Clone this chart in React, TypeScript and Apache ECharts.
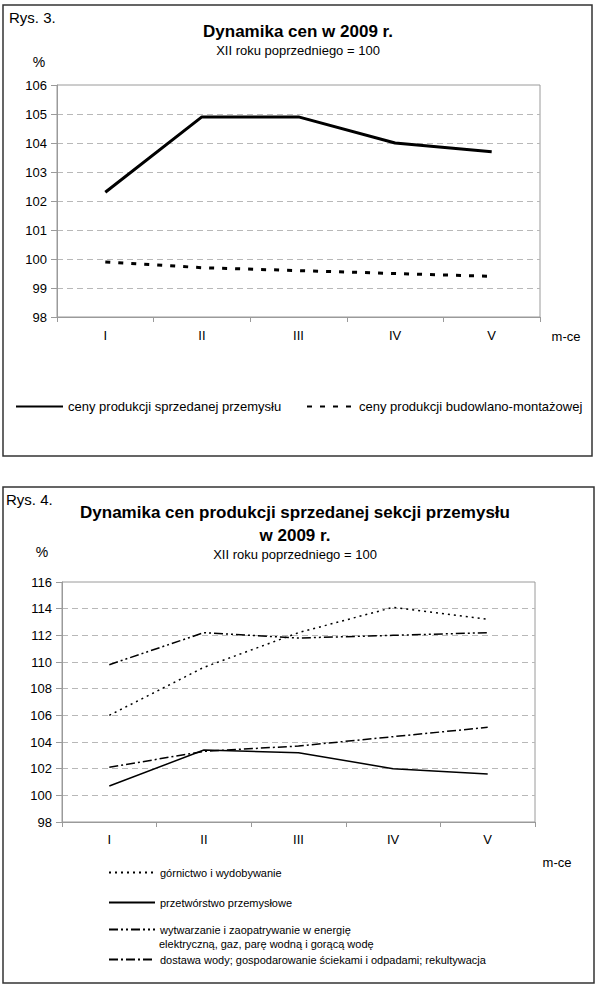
import React, { useEffect, useRef } from "react";
import * as echarts from "echarts";

const FONT = '"Liberation Sans", Arial, sans-serif';

// months (m-ce) on the x axes
const months = ["I", "II", "III", "IV", "V"];

// Rys. 3 – XII roku poprzedniego = 100
const industryPrices = [102.3, 104.9, 104.9, 104.0, 103.7];
const constructionPrices = [99.9, 99.7, 99.6, 99.5, 99.4];

// Rys. 4 – sekcje przemysłu
const mining = [106.0, 109.6, 112.2, 114.1, 113.2];
const manufacturing = [100.7, 103.4, 103.2, 102.0, 101.6];
const energy = [109.8, 112.2, 111.8, 112.0, 112.2];
const water = [102.1, 103.3, 103.7, 104.4, 105.1];

const NAME_INDUSTRY = "ceny produkcji sprzedanej przemysłu";
const NAME_CONSTRUCTION = "ceny produkcji budowlano-montażowej";
const NAME_MINING = "górnictwo i wydobywanie";
const NAME_MANUF = "przetwórstwo przemysłowe";
const NAME_ENERGY = "wytwarzanie i zaopatrywanie w energię";
const NAME_ENERGY_2 = "elektryczną, gaz, parę wodną i gorącą wodę";
const NAME_WATER = "dostawa wody; gospodarowanie ściekami i odpadami; rekultywacja";

const AXIS_GRAY = "#9a9a9a";

function valueAxis(gridIndex: number, min: number, max: number, interval: number) {
    return {
        type: "value",
        gridIndex,
        min,
        max,
        interval,
        axisLine: { show: true, lineStyle: { color: AXIS_GRAY } },
        axisTick: { show: true, length: 6, lineStyle: { color: AXIS_GRAY } },
        axisLabel: { color: "#000", fontSize: 13, fontFamily: FONT, margin: 10 },
        splitLine: {
            show: true,
            showMinLine: false,
            showMaxLine: false,
            lineStyle: { color: "#b8b8b8", type: [6, 4], width: 1 },
        },
    };
}

function monthAxis(gridIndex: number, margin: number) {
    return {
        type: "category",
        gridIndex,
        data: months,
        boundaryGap: true,
        axisLine: { show: true, lineStyle: { color: AXIS_GRAY } },
        axisTick: { show: true, length: 5, alignWithLabel: false, lineStyle: { color: AXIS_GRAY } },
        axisLabel: { color: "#000", fontSize: 13, fontFamily: FONT, margin },
        splitLine: { show: false },
    };
}

function lineSeries(name: string, axisIndex: number, data: number[], width: number, type: any) {
    return {
        name,
        type: "line",
        xAxisIndex: axisIndex,
        yAxisIndex: axisIndex,
        data,
        symbol: "none",
        lineStyle: { color: "#000", width, type, cap: "butt" },
        itemStyle: { color: "#000" },
        emphasis: { disabled: true },
    };
}

function legendAt(name: string, left: number, top: number, fontSize: number, itemWidth: number) {
    return {
        data: [name],
        left,
        top,
        padding: 0,
        itemWidth,
        itemHeight: 10,
        selectedMode: false,
        itemStyle: { opacity: 0 },
        textStyle: { color: "#000", fontSize, fontFamily: FONT },
    };
}

function label(text: string, x: number, y: number, fontSize: number, opts: any = {}) {
    return {
        type: "text",
        x,
        y,
        z: 10,
        style: {
            text,
            fill: "#000",
            font: `${opts.bold ? "bold " : ""}${fontSize}px ${FONT}`,
            textAlign: opts.align ?? "left",
            textVerticalAlign: "middle",
        },
    };
}

const App: React.FC = () => {
    const containerRef = useRef<HTMLDivElement | null>(null);

    useEffect(() => {
        if (!containerRef.current) return;
        const inst = echarts.init(containerRef.current, undefined, { renderer: "svg" });

        inst.setOption({
            animation: false,
            backgroundColor: "#fff",
            textStyle: { fontFamily: FONT },
            grid: [
                { left: 57, right: 60, top: 85, height: 232, show: true, borderColor: AXIS_GRAY, borderWidth: 1 },
                { left: 62, right: 65, top: 582, height: 240, show: true, borderColor: AXIS_GRAY, borderWidth: 1 },
            ],
            xAxis: [monthAxis(0, 12), monthAxis(1, 11)],
            yAxis: [valueAxis(0, 98, 106, 1), valueAxis(1, 98, 116, 2)],
            legend: [
                legendAt(NAME_INDUSTRY, 15, 400, 13, 47),
                legendAt(NAME_CONSTRUCTION, 306, 400, 13, 47),
                legendAt(NAME_MINING, 108, 867, 11, 46),
                legendAt(NAME_MANUF, 108, 897, 11, 46),
                legendAt(NAME_ENERGY, 108, 924, 11, 46),
                legendAt(NAME_WATER, 108, 954, 11, 46),
            ],
            series: [
                lineSeries(NAME_INDUSTRY, 0, industryPrices, 3, "solid"),
                lineSeries(NAME_CONSTRUCTION, 0, constructionPrices, 3, [5, 8]),
                lineSeries(NAME_MINING, 1, mining, 1.5, [2, 4]),
                lineSeries(NAME_MANUF, 1, manufacturing, 1.5, "solid"),
                lineSeries(NAME_ENERGY, 1, energy, 1.5, [9, 3, 2, 3, 2, 3]),
                lineSeries(NAME_WATER, 1, water, 1.5, [9, 3, 2, 3]),
            ],
            graphic: [
                {
                    type: "rect",
                    shape: { x: 3, y: 5, width: 589, height: 451 },
                    style: { fill: "none", stroke: "#333", lineWidth: 1.5 },
                },
                {
                    type: "rect",
                    shape: { x: 3, y: 487, width: 591, height: 496 },
                    style: { fill: "none", stroke: "#333", lineWidth: 1.5 },
                },
                label("Rys. 3.", 9, 17, 15),
                label("Dynamika cen w 2009 r.", 298, 31, 17, { bold: true, align: "center" }),
                label("XII roku poprzedniego = 100", 298, 50, 13, { align: "center" }),
                label("%", 39, 62, 14, { align: "center" }),
                label("m-ce", 566, 336, 13, { align: "center" }),

                label("Rys. 4.", 6, 499, 15),
                label("Dynamika cen produkcji sprzedanej sekcji przemysłu", 295, 512, 17, { bold: true, align: "center" }),
                label("w 2009 r.", 295, 535, 17, { bold: true, align: "center" }),
                label("XII roku poprzedniego = 100", 295, 554, 13, { align: "center" }),
                label("%", 42, 552, 14, { align: "center" }),
                label("m-ce", 557, 862, 13, { align: "center" }),
                label(NAME_ENERGY_2, 159, 944, 11),
            ],
        });

        return () => {
            inst.dispose();
        };
    }, []);

    return (
        <div
            ref={containerRef}
            style={{ position: "absolute", left: 0, top: 0, width: 600, height: 995, background: "#fff" }}
        />
    );
};

export default App;
